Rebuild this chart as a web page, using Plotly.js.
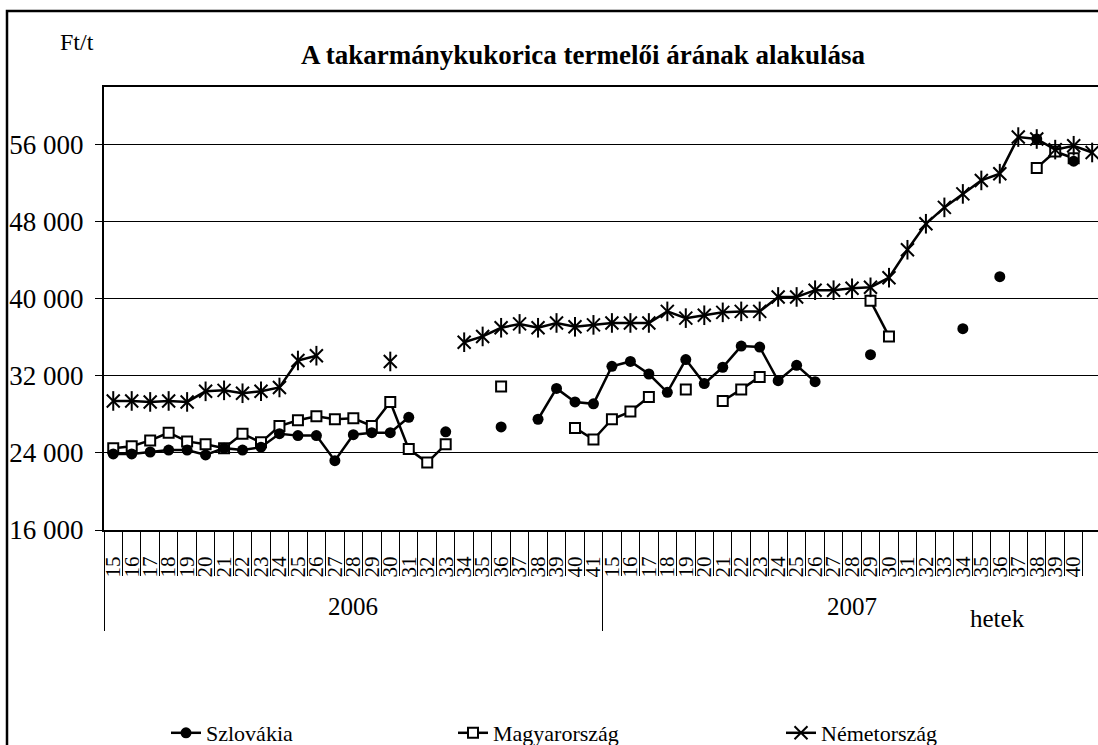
<!DOCTYPE html>
<html><head><meta charset="utf-8">
<script src="https://cdn.plot.ly/plotly-3.0.1.min.js"></script>
<style>html,body{margin:0;padding:0;background:#fff;overflow:hidden}#chart{width:1098px;height:745px}</style>
</head><body><div id="chart"></div><script>
const years = ['2006', '2007'];
const weeks = [15,16,17,18,19,20,21,22,23,24,25,26,27,28,29,30,31,32,33,34,35,36,37,38,39,40,41];
const seriesNames = ['Szlovákia', 'Magyarország', 'Németország'];
// 2006 weeks 15-41, then 2007 weeks 15-41
const szlovakia = [
  23900,23900,24100,24300,24300,23800,24500,24300,24600,26000,25800,25800,23200,25900,26100,26100,27700,null,26200,null,null,26700,null,27500,30700,29300,29100,
  33000,33500,32200,30300,33700,31200,32900,35100,35000,31500,33100,31400,null,null,34200,null,null,null,null,36900,null,42300,null,56600,null,54300,null
];
const magyarorszag = [
  24500,24700,25300,26100,25200,24900,24500,26000,25100,26800,27400,27800,27500,27600,26800,29300,24400,23000,24900,null,null,30900,null,null,null,26600,25400,
  27500,28300,29800,null,30600,null,29400,30600,31900,null,null,null,null,null,39800,36100,null,null,null,null,null,null,null,53600,55300,54600,null
];
const nemetorszag = [
  29400,29400,29300,29400,29300,30400,30500,30200,30400,30800,33600,34100,null,null,null,33500,null,null,null,35500,36100,37000,37400,37000,37500,37100,37300,
  37500,37500,37500,38700,38000,38300,38600,38700,38700,40200,40200,40900,40900,41100,41200,42200,45100,47800,49500,50900,52300,53000,56800,56600,55500,55900,55200
];
const yTickVals = [16000, 24000, 32000, 40000, 48000, 56000];
const yTickText = ['16 000', '24 000', '32 000', '40 000', '48 000', '56 000'];

const labels = [];
years.forEach(() => weeks.forEach(w => labels.push(String(w))));
const idx = labels.map((_, i) => i);
const bounds = labels.map((_, i) => i - 0.5);
const yearBounds = years.map((_, i) => i * weeks.length - 0.5).concat([years.length * weeks.length - 0.5]);
const yearCenters = years.map((_, i) => i * weeks.length + (weeks.length - 1) / 2);

const FONT = 'Liberation Serif';
const W = 1098, H = 745, L = 104, T = 87, B = 215;
const pw = W - L, ph = H - T - B;
const catW = 18.47;
const xr = [-0.5, -0.5 + pw / catW];
const px = v => (v - L) / pw;
const py = v => (H - B - v) / ph;

const traces = [
  {x: idx, y: magyarorszag, name: seriesNames[1], mode: 'lines+markers', legend: 'legend2',
   line: {color: '#000', width: 2.5},
   marker: {symbol: 'square', size: 10, color: '#fff', line: {color: '#000', width: 2}}},
  {x: idx, y: szlovakia, name: seriesNames[0], mode: 'lines+markers', legend: 'legend',
   line: {color: '#000', width: 2.5},
   marker: {symbol: 'circle', size: 11, color: '#000'}},
  {x: idx, y: nemetorszag, name: seriesNames[2], mode: 'lines+markers', legend: 'legend3',
   line: {color: '#000', width: 2.5},
   marker: {symbol: 'x-thin-open', size: 13, color: '#000', line: {color: '#000', width: 2}}},
  {x: idx, y: nemetorszag, name: seriesNames[2], mode: 'markers', showlegend: false, hoverinfo: 'skip',
   marker: {symbol: 'line-ns-open', size: 14, color: '#000', line: {color: '#000', width: 2}}},
  // invisible helpers so the category-divider axes get drawn
  {x: bounds, y: bounds.map(() => null), xaxis: 'x2', mode: 'markers', showlegend: false, hoverinfo: 'skip'},
  {x: yearBounds, y: yearBounds.map(() => null), xaxis: 'x3', mode: 'markers', showlegend: false, hoverinfo: 'skip'}
];

const legendBase = {orientation: 'h', xanchor: 'left', yanchor: 'middle', y: py(733),
  font: {family: FONT, size: 22, color: '#000'}, bgcolor: 'rgba(0,0,0,0)', borderwidth: 0};

const layout = {
  width: W, height: H,
  margin: {l: L, r: 0, t: T, b: B, pad: 0, autoexpand: false},
  paper_bgcolor: '#fff', plot_bgcolor: '#fff',
  font: {family: FONT, color: '#000'},
  title: {text: '<b>A takarmánykukorica termelői árának alakulása</b>', font: {family: FONT, size: 27, color: '#000'},
    xref: 'container', yref: 'container', x: 583 / W, y: 1 - 55 / H, xanchor: 'center', yanchor: 'middle'},
  xaxis: {range: xr, tickmode: 'array', tickvals: idx, ticktext: labels, tickangle: -90, ticks: '',
    ticklabelstandoff: 16, showline: true, mirror: true, linecolor: '#000', linewidth: 2,
    showgrid: false, zeroline: false, fixedrange: true,
    tickfont: {family: FONT, size: 21, color: '#000'}},
  xaxis2: {overlaying: 'x', anchor: 'y', side: 'bottom', range: xr, tickmode: 'array', tickvals: bounds,
    ticks: 'outside', ticklen: 45, tickwidth: 1, tickcolor: '#000', showticklabels: false,
    showline: false, showgrid: false, zeroline: false, fixedrange: true},
  xaxis3: {overlaying: 'x', anchor: 'y', side: 'bottom', range: xr, tickmode: 'array', tickvals: yearBounds,
    ticks: 'outside', ticklen: 100, tickwidth: 1, tickcolor: '#000', showticklabels: false,
    showline: false, showgrid: false, zeroline: false, fixedrange: true},
  yaxis: {range: [16000, 62000], tickmode: 'array', tickvals: yTickVals, ticktext: yTickText,
    ticks: 'outside', ticklen: 7, tickwidth: 1, tickcolor: '#000', ticklabelstandoff: 6,
    showline: true, linecolor: '#000', linewidth: 2, showgrid: true, gridcolor: '#000', gridwidth: 1,
    zeroline: false, fixedrange: true, tickfont: {family: FONT, size: 27, color: '#000'}},
  legend: Object.assign({}, legendBase, {x: px(166)}),
  legend2: Object.assign({}, legendBase, {x: px(453)}),
  legend3: Object.assign({}, legendBase, {x: px(781)}),
  annotations: [
    {text: 'Ft/t', xref: 'paper', yref: 'paper', x: px(58), y: py(27), showarrow: false,
     font: {family: FONT, size: 24, color: '#000'}},
    {text: 'hetek', xref: 'paper', yref: 'paper', x: px(1027), y: py(634), showarrow: false,
     font: {family: FONT, size: 25, color: '#000'}}
  ].concat(years.map((yr, i) => ({text: yr, xref: 'x', yref: 'paper', x: yearCenters[i], y: py(622), showarrow: false,
     font: {family: FONT, size: 25, color: '#000'}}))),
  shapes: [
    {type: 'rect', xref: 'paper', yref: 'paper', x0: px(7), x1: px(1120), y0: py(770), y1: py(11),
     line: {color: '#000', width: 2.5}, fillcolor: 'rgba(0,0,0,0)', layer: 'above'}
  ],
  showlegend: true
};

Plotly.newPlot('chart', traces, layout, {displayModeBar: false, staticPlot: true});
</script></body></html>
